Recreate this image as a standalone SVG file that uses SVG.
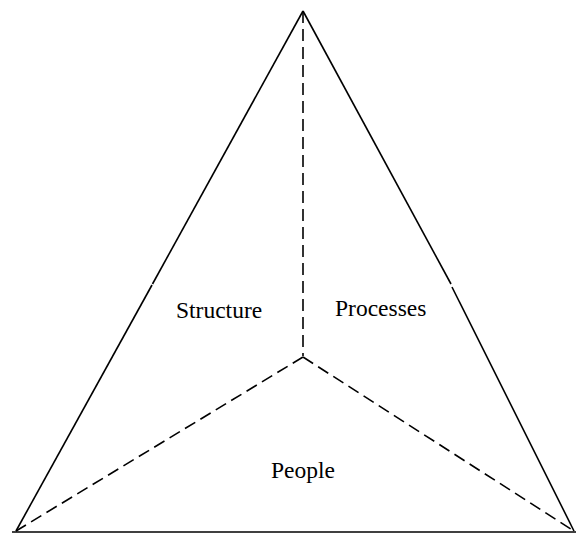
<svg xmlns="http://www.w3.org/2000/svg" width="576" height="535" viewBox="0 0 576 535">
<style>
.solid{stroke:#000;stroke-width:1.6;fill:none;stroke-linecap:butt}
.dash{stroke:#000;stroke-width:1.6;fill:none;stroke-dasharray:12 6}
.lbl{font-family:"Liberation Serif","Times New Roman",serif;font-size:23.5px;fill:#000}
</style>
<rect width="576" height="535" fill="#fff"/>
<g id="connectors">
<line class="solid" x1="303" y1="11" x2="152.5" y2="284"/>
<line class="solid" x1="152" y1="285" x2="16" y2="531"/>
<line class="solid" x1="303" y1="11" x2="451" y2="284"/>
<line class="solid" x1="452" y1="287" x2="574" y2="531"/>
<line class="solid" x1="12" y1="532" x2="576" y2="532"/>
<line class="dash" x1="303" y1="11" x2="303" y2="356"/>
<line class="dash" x1="303" y1="357" x2="16" y2="531"/>
<line class="dash" x1="303" y1="357" x2="574" y2="531"/>
</g>
<g id="structure"><text class="lbl" x="176" y="318">Structure</text></g>
<g id="processes"><text class="lbl" x="335" y="316">Processes</text></g>
<g id="people"><text class="lbl" x="271" y="478">People</text></g>
</svg>
